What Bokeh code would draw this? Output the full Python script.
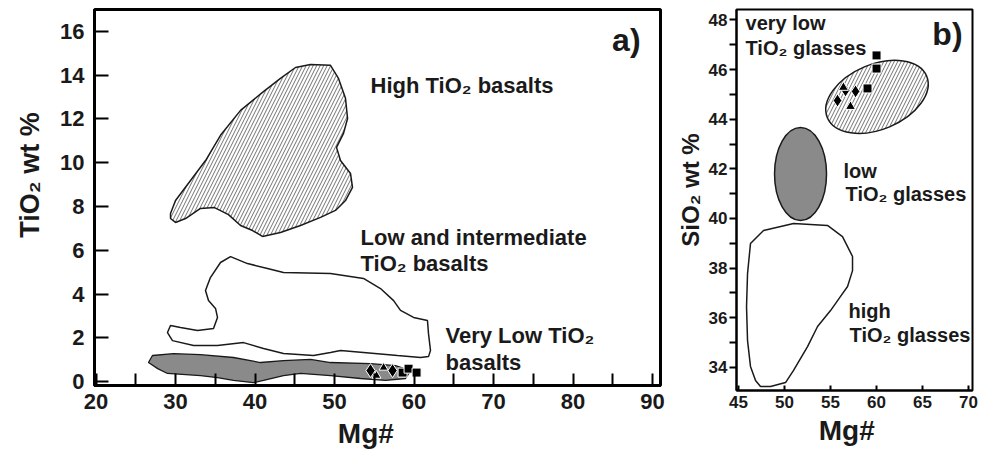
from bokeh.plotting import figure
from bokeh.layouts import row
from bokeh.models import FixedTicker, Range1d
from bokeh.core.properties import value
from bokeh.embed import file_html
from bokeh.resources import INLINE

FONT = "Liberation Sans"
NB = "\u00a0"

# ---------------- panel a) TiO2 vs Mg# : basalt fields ----------------
high_ti_mg = [29.37, 30.0, 31.89, 33.78, 35.66, 38.18, 40.94, 43.20, 45.09, 46.97, 49.49,
              50.5, 51.38, 51.64, 51.13, 50.25, 50.75, 52.01, 52.26, 51.38, 50.12, 48.24,
              45.72, 43.20, 40.94, 39.69, 38.18, 36.66, 34.9, 33.14, 31.26, 30.0, 29.37]
high_ti_tio2 = [7.68, 8.27, 9.19, 10.10, 11.25, 12.39, 13.21, 13.85, 14.35, 14.49, 14.45,
                13.85, 12.94, 12.02, 11.34, 10.70, 10.10, 9.51, 8.87, 8.27, 7.82, 7.50,
                7.13, 6.81, 6.63, 6.90, 7.13, 7.63, 7.95, 7.91, 7.45, 7.27, 7.45]

low_ti_mg = [36.92, 39.05, 41.57, 43.58, 49.49, 53.64, 55.78, 57.43, 58.30, 59.94, 61.69,
             61.82, 62.07, 61.82, 60.82, 57.92, 53.64, 50.76, 49.49, 47.36, 43.58, 41.07,
             38.55, 35.28, 32.27, 29.62, 28.99, 29.37, 30.63, 32.77, 34.78, 35.28, 35.03,
             34.15, 33.77, 34.39, 35.66]
low_ti_tio2 = [5.71, 5.39, 5.17, 4.98, 4.94, 4.71, 4.25, 3.70, 3.25, 2.93, 2.79,
               2.19, 1.42, 1.14, 1.10, 1.19, 1.33, 1.42, 1.33, 1.19, 1.28, 1.51,
               1.78, 1.65, 1.65, 1.87, 2.24, 2.56, 2.47, 2.33, 2.42, 2.93, 3.34,
               3.70, 4.16, 4.75, 5.44]

vlt_mg = [27.1, 29.75, 33.15, 37.29, 40.69, 43.58, 46.98, 49.49, 54.53, 57.67, 59.56,
          58.94, 56.42, 53.27, 49.49, 45.73, 43.58, 41.07, 39.81, 37.29, 35.28, 33.15,
          28.99, 27.76, 26.6]
vlt_tio2 = [1.19, 1.28, 1.23, 1.10, 0.87, 0.96, 1.01, 0.87, 0.82, 0.73, 0.50,
            0.14, 0.05, 0.14, 0.27, 0.37, 0.27, 0.05, -0.05, 0.05, 0.18, 0.27,
            0.37, 0.59, 0.87]

# samples
a_diamond_mg = [54.53, 57.3]
a_diamond_tio2 = [0.50, 0.50]
a_triangle_mg = [55.28, 56.17]
a_triangle_tio2 = [0.27, 0.64]
a_square_mg = [58.56, 59.31, 60.32]
a_square_tio2 = [0.41, 0.59, 0.41]

a_labels = ["High TiO\u2082 basalts", "Low and intermediate", "TiO\u2082 basalts",
            "Very Low TiO\u2082", "basalts"]
a_label_mg = [54.53, 53.27, 53.27, 63.96, 63.96]
a_label_tio2 = [13.53, 6.58, 5.39, 2.10, 0.87]

a_x_ticks = [20, 30, 40, 50, 60, 70, 80, 90]
a_x_minor = [25, 35, 45, 55, 65, 75, 85]
a_y_ticks = [0, 2, 4, 6, 8, 10, 12, 14, 16]

# ---------------- panel b) SiO2 vs Mg# : glass fields ----------------
vlt_glass_ell = dict(x=[60.05], y=[44.90], w=[11.7], h=[2.62], angle=[22.8])
low_glass_ell = dict(x=[51.74], y=[41.79], w=[5.65], h=[3.75], angle=[0.0])

high_glass_mg = [46.30, 47.72, 50.98, 54.67, 56.30, 57.39, 57.39, 56.85, 56.09, 55.0, 53.59,
                 52.5, 50.98, 50.11, 48.48, 47.39, 46.85, 46.30, 45.98, 45.87, 45.98]
high_glass_sio2 = [38.99, 39.52, 39.80, 39.72, 39.27, 38.47, 37.90, 37.26, 36.86, 36.29, 35.65,
                   34.84, 33.88, 33.39, 33.23, 33.23, 33.47, 34.04, 35.08, 36.45, 37.78]

b_square_mg = [60.0, 60.0, 59.02]
b_square_sio2 = [46.57, 46.04, 45.24]
b_diamond_mg = [55.76, 56.63, 57.72]
b_diamond_sio2 = [44.75, 45.16, 45.12]
b_triangle_mg = [57.17, 56.4]
b_triangle_sio2 = [44.51, 45.28]

b_labels = ["very low", "TiO\u2082 glasses", "low", "TiO\u2082 glasses", "high", "TiO\u2082 glasses"]
b_label_mg = [45.76, 45.76, 56.41, 56.63, 56.96, 57.07]
b_label_sio2 = [47.86, 46.85, 41.93, 40.97, 36.29, 35.29]

b_x_ticks = [45, 50, 55, 60, 65, 70]
b_y_ticks = [34, 36, 38, 40, 42, 44, 46, 48]
b_y_minor = [35, 37, 39, 41, 43, 45, 47]


def style_common(p, tick_size, label_size, frame_w):
    p.grid.visible = False
    p.outline_line_color = "black"
    p.outline_line_width = frame_w
    for ax in (p.xaxis[0], p.yaxis[0]):
        ax.axis_line_width = frame_w
        ax.axis_line_color = "black"
        ax.major_tick_line_width = 2
        ax.minor_tick_line_width = 2
        ax.major_tick_line_color = "black"
        ax.minor_tick_line_color = "black"
        ax.major_label_text_font = FONT
        ax.major_label_text_font_style = "bold"
        ax.major_label_text_font_size = tick_size
        ax.major_label_text_color = "#1a1a1a"
        ax.axis_label_text_font = FONT
        ax.axis_label_text_font_style = "bold"
        ax.axis_label_text_font_size = label_size
        ax.axis_label_text_color = "#1a1a1a"


# ---- figure a
pa = figure(frame_width=566, frame_height=376,
            x_range=Range1d(19.81, 91.0), y_range=Range1d(-0.18, 17.0),
            output_backend="svg", toolbar_location=None,
            min_border_left=94, min_border_right=10, min_border_top=9, min_border_bottom=72,
            background_fill_color="white", border_fill_color="white")
style_common(pa, "22px", "28px", 3)

xa = pa.xaxis[0]
xa.ticker = FixedTicker(ticks=a_x_ticks, minor_ticks=a_x_minor)
xa.major_tick_in = 12
xa.major_tick_out = 0
xa.minor_tick_in = 12
xa.minor_tick_out = 0
xa.major_label_standoff = 8
xa.axis_label = "Mg#" + NB * 3
xa.axis_label_standoff = 6

ya = pa.yaxis[0]
ya.ticker = FixedTicker(ticks=a_y_ticks, minor_ticks=[])
ya.major_tick_in = 14
ya.major_tick_out = 0
ya.major_label_standoff = 10
ya.axis_label = NB * 6 + "TiO\u2082 wt %"
ya.axis_label_standoff = 12
ya.axis_label_text_font_size = "27px"

pa.patch(vlt_mg, vlt_tio2, fill_color="#8a8a8a", line_color="#1a1a1a", line_width=1.3)
pa.patch(low_ti_mg, low_ti_tio2, fill_color=None, line_color="#1a1a1a", line_width=1.5)
pa.patch(high_ti_mg, high_ti_tio2, fill_color="white", line_color="#1a1a1a", line_width=1.5,
         hatch_pattern="/", hatch_scale=7, hatch_color="#333333", hatch_weight=0.7)

pa.scatter(a_square_mg, a_square_tio2, marker="square", size=9,
           fill_color="black", line_color="white", line_width=1)
pa.scatter(a_diamond_mg, a_diamond_tio2, marker="diamond", size=14,
           fill_color="black", line_color="white", line_width=1)
pa.scatter(a_triangle_mg, a_triangle_tio2, marker="triangle", size=9,
           fill_color="black", line_color="white", line_width=1)

pa.text(a_label_mg, a_label_tio2, text=a_labels, text_font=value(FONT),
        text_font_style="bold", text_font_size="22px", text_color="#1a1a1a",
        text_align="left", text_baseline="middle")
pa.text([88.49], [15.59], text=["a)"], text_font=value(FONT), text_font_style="bold",
        text_font_size="32px", text_color="#1a1a1a", text_align="right", text_baseline="middle")

# ---- figure b
pb = figure(frame_width=236, frame_height=381,
            x_range=Range1d(44.78, 70.43), y_range=Range1d(33.07, 48.42),
            output_backend="svg", toolbar_location=None,
            min_border_left=66, min_border_right=9, min_border_top=6, min_border_bottom=70,
            background_fill_color="white", border_fill_color="white")
style_common(pb, "17px", "28px", 2)

xb = pb.xaxis[0]
xb.ticker = FixedTicker(ticks=b_x_ticks, minor_ticks=[])
xb.major_tick_in = 5
xb.major_tick_out = 0
xb.major_label_standoff = 5
xb.axis_label = "Mg#" + NB * 2
xb.axis_label_standoff = 4

yb = pb.yaxis[0]
yb.ticker = FixedTicker(ticks=b_y_ticks, minor_ticks=b_y_minor)
yb.major_tick_in = 0
yb.major_tick_out = 7
yb.minor_tick_in = 0
yb.minor_tick_out = 7
yb.major_label_standoff = 2
yb.axis_label = NB * 3 + "SiO\u2082 wt %"
yb.axis_label_standoff = 2
yb.axis_label_text_font_size = "24px"

pb.patch(high_glass_mg, high_glass_sio2, fill_color=None, line_color="#1a1a1a", line_width=1.5)
pb.ellipse(x=low_glass_ell["x"], y=low_glass_ell["y"], width=low_glass_ell["w"],
           height=low_glass_ell["h"], angle=low_glass_ell["angle"], angle_units="deg",
           fill_color="#8a8a8a", line_color="#1a1a1a", line_width=1.5)
pb.ellipse(x=vlt_glass_ell["x"], y=vlt_glass_ell["y"], width=vlt_glass_ell["w"],
           height=vlt_glass_ell["h"], angle=vlt_glass_ell["angle"], angle_units="deg",
           fill_color="white", line_color="#1a1a1a", line_width=1.5,
           hatch_pattern="/", hatch_scale=7, hatch_color="#333333", hatch_weight=0.7)

pb.scatter(b_square_mg, b_square_sio2, marker="square", size=9,
           fill_color="black", line_color="white", line_width=1)
pb.scatter(b_diamond_mg, b_diamond_sio2, marker="diamond", size=13,
           fill_color="black", line_color="white", line_width=1)
pb.scatter(b_triangle_mg, b_triangle_sio2, marker="triangle", size=10,
           fill_color="black", line_color="white", line_width=1)

pb.text(b_label_mg, b_label_sio2, text=b_labels, text_font=value(FONT),
        text_font_style="bold", text_font_size="20px", text_color="#1a1a1a",
        text_align="left", text_baseline="middle")
pb.text([69.35], [47.45], text=["b)"], text_font=value(FONT), text_font_style="bold",
        text_font_size="32px", text_color="#1a1a1a", text_align="right", text_baseline="middle")

layout = row(pa, pb)
open("out.html", "w").write(file_html(layout, INLINE))
